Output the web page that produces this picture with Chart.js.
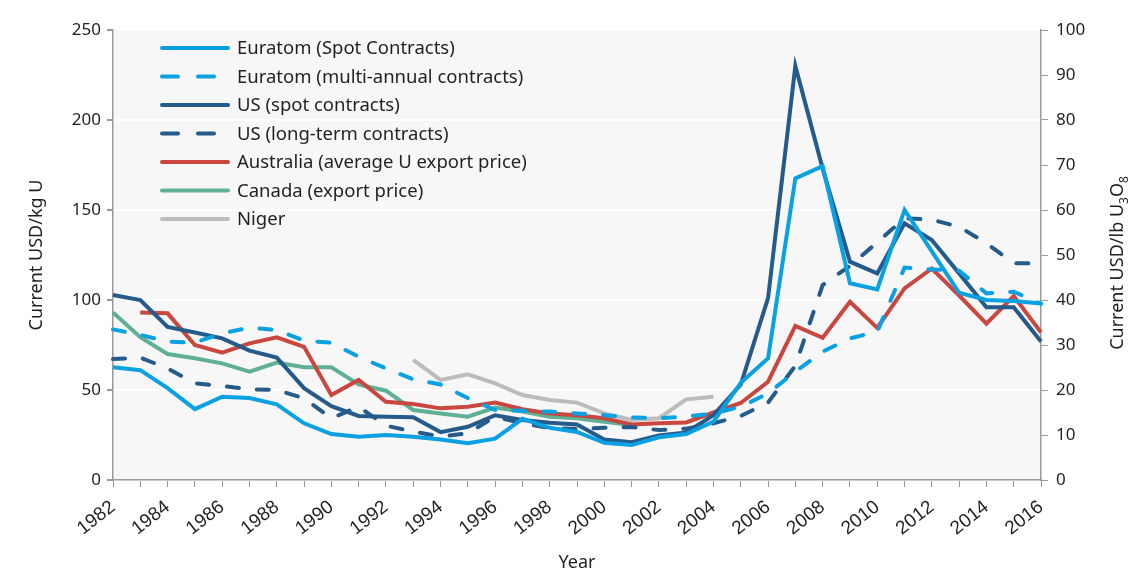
<!DOCTYPE html>
<html>
<head>
<meta charset="utf-8">
<script src="https://cdn.jsdelivr.net/npm/chart.js@4"></script>
<style>
  html, body { margin: 0; padding: 0; background: #fff; }
  #wrap { width: 1134px; height: 580px; }
</style>
</head>
<body>
<div id="wrap"><canvas id="stats" width="1134" height="580"></canvas></div>
<script>
// years on the x axis
var years = [];
for (var y = 1982; y <= 2016; y++) years.push(String(y));

// prices in current USD/kg U
var euratomSpot = [62.6, 61, 51, 39.4, 46.3, 45.5, 42, 31.5, 25.5, 24, 25, 24, 22.5, 20.4, 23, 34, 29, 26.7, 20.7, 19.4,
  23.7, 25.5, 32.4, 54, 67.6, 167.6, 174.4, 109.3, 105.9, 150, 127, 104, 100, 99.5, 98];
var euratomMulti = [83.7, 80.6, 76.9, 76.3, 81.5, 84.6, 83.3, 77.4, 76.3, 68.5, 62, 55.9, 53.1, 45.5, 38.9, 38.5, 38, 37, 36, 34.8,
  34.3, 35.2, 37, 40.7, 48.1, 60.2, 71.3, 78.7, 82.4, 118, 117, 116.3, 103.7, 104.6, 98];
var usSpot = [102.8, 100, 85, 81.9, 78.7, 71.9, 68, 51, 41, 35.6, 35.2, 34.8, 26.6, 29.6, 36, 33.3, 31.8, 30.8, 22.5, 21,
  24.8, 26.4, 36, 53, 101, 230, 173, 121.3, 114.8, 142.6, 133.3, 114.8, 96, 96, 77];
var usLongTerm = [67.2, 68, 62, 53.7, 52.2, 50.4, 50, 45.4, 34.3, 40.7, 30.2, 26.9, 24.1, 26, 35.2, 31.5, 28.9, 28.3, 29, 29.4,
  27.8, 28.5, 31.5, 35.6, 43, 63.5, 108.3, 119, 132, 145.4, 144.6, 140.7, 131.5, 120.4, 120.4];
var australia = [null, 93.1, 92.6, 75, 70.7, 75.9, 79.3, 74, 47.2, 55.6, 43.5, 42.2, 39.8, 40.7, 43, 39.3, 37, 36, 34.3, 30.8,
  31.5, 32, 37.5, 42.8, 54.6, 85.6, 79, 99, 84.5, 106.5, 117.5, 102.5, 86.8, 102.2, 82];
var canada = [93, 79.3, 70, 67.6, 64.8, 60.2, 65.2, 62.6, 62.6, 53.1, 49.6, 38.9, 37, 35.2, 40.2, 38, 35.2, 34.3, 32.4, 30.6];
var niger = [null, null, null, null, null, null, null, null, null, null, null, 66.7, 55.6, 58.7, 53.7, 47.2, 44.4, 43, 37, 33.3,
  34.3, 44.8, 46.3];

var seriesNames = ["Euratom (Spot Contracts)", "Euratom (multi-annual contracts)", "US (spot contracts)",
  "US (long-term contracts)", "Australia (average U export price)", "Canada (export price)", "Niger"];

var lightBlue = "#0aa1e2", darkBlue = "#245b8b", red = "#c9473f", green = "#5fb094", grey = "#bcbcbc";
var FONT = "'Noto Sans', 'Open Sans', sans-serif";

function ds(label, data, color, dashed) {
  return {
    label: label, data: data, borderColor: color, backgroundColor: color,
    borderWidth: 4, borderDash: dashed ? [12, 18] : [], borderCapStyle: dashed ? "round" : "butt",
    borderJoinStyle: "miter", pointRadius: 0, pointHoverRadius: 0, tension: 0, spanGaps: false, fill: false
  };
}

// light grey plot background
var plotBg = {
  id: "plotBg",
  beforeDraw: function (chart) {
    var a = chart.chartArea, ctx = chart.ctx;
    ctx.save();
    ctx.fillStyle = "#f7f7f7";
    ctx.fillRect(a.left, a.top, a.right - a.left, a.bottom - a.top);
    ctx.restore();
  }
};

// legend drawn inside the plot, top left
var insideLegend = {
  id: "insideLegend",
  afterDatasetsDraw: function (chart) {
    var ctx = chart.ctx, a = chart.chartArea;
    var x0 = a.left + 47, y0 = a.top + 18, step = 28.5;
    ctx.save();
    ctx.font = "18.5px " + FONT;
    ctx.textBaseline = "middle";
    chart.data.datasets.forEach(function (d, i) {
      var yy = y0 + i * step;
      ctx.strokeStyle = d.borderColor;
      ctx.lineWidth = 4;
      ctx.lineCap = "round";
      ctx.setLineDash(d.borderDash.length ? [16, 20] : []);
      ctx.beginPath(); ctx.moveTo(x0 + 2, yy); ctx.lineTo(x0 + 68, yy); ctx.stroke();
      ctx.setLineDash([]);
      ctx.fillStyle = "#231f20";
      ctx.fillText(d.label, x0 + 77, yy + 1);
    });
    ctx.restore();
  }
};

// right axis title, reading bottom to top, with subscripts
var rightTitle = {
  id: "rightTitle",
  afterDraw: function (chart) {
    var ctx = chart.ctx, a = chart.chartArea;
    var cx = 1117, cy = (a.top + a.bottom) / 2 + 8;
    var parts = [["Current USD/lb U", 18, 0], ["3", 12, 5], ["O", 18, 0], ["8", 12, 5]];
    ctx.save();
    ctx.translate(cx, cy);
    ctx.rotate(-Math.PI / 2);
    ctx.textBaseline = "alphabetic";
    ctx.fillStyle = "#231f20";
    var total = 0;
    parts.forEach(function (p) { ctx.font = p[1] + "px " + FONT; total += ctx.measureText(p[0]).width; });
    var x = -total / 2;
    parts.forEach(function (p) {
      ctx.font = p[1] + "px " + FONT;
      ctx.fillText(p[0], x, 6 + p[2]);
      x += ctx.measureText(p[0]).width;
    });
    ctx.restore();
  }
};

new Chart("stats", {
  type: "line",
  data: {
    labels: years,
    datasets: [
      ds(seriesNames[0], euratomSpot, lightBlue, false),
      ds(seriesNames[1], euratomMulti, lightBlue, true),
      ds(seriesNames[2], usSpot, darkBlue, false),
      ds(seriesNames[3], usLongTerm, darkBlue, true),
      ds(seriesNames[4], australia, red, false),
      ds(seriesNames[5], canada, green, false),
      ds(seriesNames[6], niger, grey, false)
    ]
  },
  options: {
    responsive: false,
    animation: false,
    layout: { padding: { top: 30, left: 0, right: 0, bottom: 0 } },
    plugins: { legend: { display: false }, tooltip: { enabled: false } },
    scales: {
      x: {
        offset: false,
        grid: { drawOnChartArea: false, color: "#9a9a9a", tickColor: "#9a9a9a", tickLength: 7 },
        border: { color: "#9a9a9a", width: 1.5 },
        ticks: {
          autoSkip: false, minRotation: 38, maxRotation: 38, padding: 9,
          color: "#231f20", font: { family: "'Liberation Sans Narrow', 'Liberation Sans', sans-serif", size: 19 },
          callback: function (v, i) { return i % 2 === 0 ? years[i] : ""; }
        },
        title: { display: true, text: "Year", color: "#231f20", font: { family: FONT, size: 18 }, padding: { top: 0, bottom: 6 } },
        afterFit: function (s) { s.height = 100; }
      },
      y: {
        position: "left", min: 0, max: 250,
        ticks: { stepSize: 50, color: "#231f20", font: { family: FONT, size: 17 }, padding: 6 },
        grid: { color: "#ffffff", lineWidth: 2, tickColor: "#9a9a9a", tickLength: 6 },
        border: { color: "#9a9a9a", width: 1.5 },
        title: { display: true, text: "Current USD/kg U", color: "#231f20", font: { family: FONT, size: 18 }, padding: { top: 26, bottom: 0 } },
        afterFit: function (s) { s.width = 113; }
      },
      y1: {
        position: "right", min: 0, max: 100,
        ticks: { stepSize: 10, color: "#231f20", font: { family: FONT, size: 17 }, padding: 8 },
        grid: { drawOnChartArea: false, color: "#9a9a9a", tickColor: "#9a9a9a", tickLength: 7 },
        border: { color: "#9a9a9a", width: 1.5 },
        afterFit: function (s) { s.width = 93; }
      }
    }
  },
  plugins: [plotBg, insideLegend, rightTitle]
});
</script>
</body>
</html>
